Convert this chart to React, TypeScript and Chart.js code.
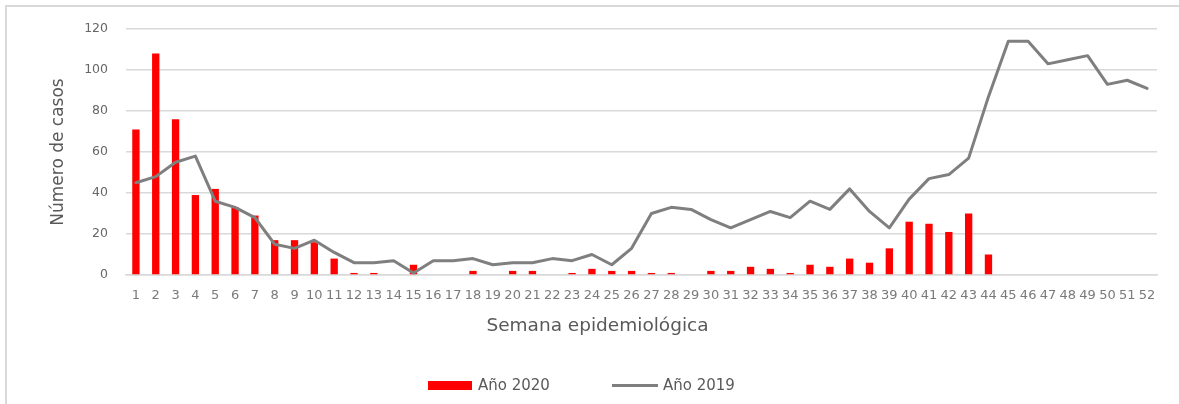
import React, { useEffect, useRef } from "react";
import { Chart, registerables } from "chart.js";

Chart.register(...registerables);

const weeks = [
  "1", "2", "3", "4", "5", "6", "7", "8", "9", "10", "11", "12", "13",
  "14", "15", "16", "17", "18", "19", "20", "21", "22", "23", "24", "25", "26",
  "27", "28", "29", "30", "31", "32", "33", "34", "35", "36", "37", "38", "39",
  "40", "41", "42", "43", "44", "45", "46", "47", "48", "49", "50", "51", "52",
];

const cases2020: (number | null)[] = [
  71, 108, 76, 39, 42, 33, 29, 17, 17, 16, 8, 1, 1,
  0, 5, 0, 0, 2, 0, 2, 2, 0, 1, 3, 2, 2,
  1, 1, 0, 2, 2, 4, 3, 1, 5, 4, 8, 6, 13,
  26, 25, 21, 30, 10, null, null, null, null, null, null, null, null,
];

const cases2019 = [
  45, 48, 55, 58, 36, 33, 28, 15, 13, 17, 11, 6, 6,
  7, 1, 7, 7, 8, 5, 6, 6, 8, 7, 10, 5, 13,
  30, 33, 32, 27, 23, 27, 31, 28, 36, 32, 42, 31, 23,
  37, 47, 49, 57, 87, 114, 114, 103, 105, 107, 93, 95, 91,
];

const yMin = 0;
const yMax = 120;
const yStep = 20;

const label2020 = "Año 2020";
const label2019 = "Año 2019";
const xTitle = "Semana epidemiológica";
const yTitle = "Número de casos";

const FONT = "'DejaVu Sans', sans-serif";

export default function App() {
  const canvasRef = useRef<HTMLCanvasElement | null>(null);

  useEffect(() => {
    if (!canvasRef.current) return;
    const chart = new Chart(canvasRef.current, {
      type: "bar",
      data: {
        labels: weeks,
        datasets: [
          {
            type: "line",
            label: label2019,
            data: cases2019,
            borderColor: "#7f7f7f",
            backgroundColor: "#7f7f7f",
            borderWidth: 3,
            pointRadius: 0,
            tension: 0,
            borderJoinStyle: "round",
            borderCapStyle: "round",
            order: 0,
          },
          {
            type: "bar",
            label: label2020,
            data: cases2020,
            backgroundColor: "#ff0000",
            borderWidth: 0,
            barPercentage: 0.37,
            categoryPercentage: 1,
            order: 1,
          },
        ],
      },
      options: {
        animation: false,
        responsive: true,
        maintainAspectRatio: false,
        devicePixelRatio: 1,
        layout: { padding: { top: 29, right: 22, left: 0, bottom: 0 } },
        plugins: {
          legend: { display: false },
          tooltip: { enabled: false },
        },
        scales: {
          x: {
            offset: true,
            grid: { display: false, drawTicks: false },
            border: { display: true, color: "#d9d9d9", width: 1.5 },
            ticks: {
              autoSkip: false,
              maxRotation: 0,
              minRotation: 0,
              padding: 13,
              color: "#7a7a7a",
              font: { family: FONT, size: 13 },
            },
            afterFit: (scale: any) => {
              scale.height = 129;
            },
          },
          y: {
            min: yMin,
            max: yMax,
            ticks: {
              stepSize: yStep,
              padding: 18,
              color: "#666666",
              font: { family: FONT, size: 12.5 },
            },
            grid: { color: "#d9d9d9", lineWidth: 1.5, drawTicks: false },
            border: { display: false },
            title: {
              display: true,
              text: yTitle,
              color: "#595959",
              font: { family: FONT, size: 17 },
              padding: { top: 48, bottom: 0 },
            },
            afterFit: (scale: any) => {
              scale.width = 126;
            },
          },
        },
      },
    });
    return () => chart.destroy();
  }, []);

  const textStyle: React.CSSProperties = {
    position: "absolute",
    fontFamily: FONT,
    color: "#595959",
    whiteSpace: "nowrap",
  };

  return (
    <div
      style={{
        position: "fixed",
        left: 0,
        top: 0,
        width: 1179,
        height: 404,
        overflow: "hidden",
        background: "#ffffff",
      }}
    >
      <div
        style={{
          position: "absolute",
          left: 5,
          top: 5,
          width: 1300,
          height: 500,
          borderLeft: "2px solid #d9d9d9",
          borderTop: "2px solid #d9d9d9",
        }}
      />
      <div style={{ position: "absolute", left: 0, top: 0, width: 1179, height: 404 }}>
        <canvas ref={canvasRef} />
      </div>
      <div
        style={{
          ...textStyle,
          left: 0,
          width: 1195,
          top: 314,
          lineHeight: "22px",
          fontSize: 18.5,
          textAlign: "center",
        }}
      >
        {xTitle}
      </div>
      <div
        style={{
          position: "absolute",
          left: 428,
          top: 381,
          width: 44,
          height: 9,
          background: "#ff0000",
        }}
      />
      <div style={{ ...textStyle, left: 478, top: 376, lineHeight: "18px", fontSize: 15 }}>
        {label2020}
      </div>
      <div
        style={{
          position: "absolute",
          left: 612,
          top: 384,
          width: 46,
          height: 3,
          background: "#7f7f7f",
        }}
      />
      <div style={{ ...textStyle, left: 663, top: 376, lineHeight: "18px", fontSize: 15 }}>
        {label2019}
      </div>
    </div>
  );
}
